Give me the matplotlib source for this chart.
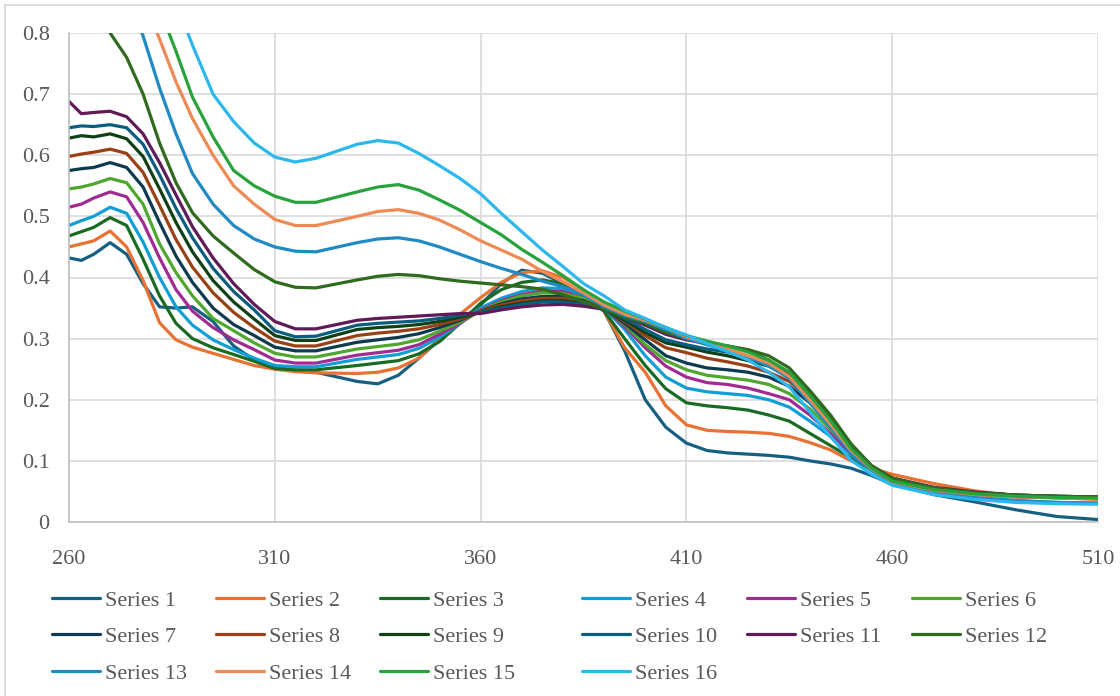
import matplotlib.pyplot as plt
from matplotlib.lines import Line2D

plt.rcParams['font.family'] = ['Liberation Serif', 'DejaVu Serif']

# wavelength grid (nm) and absorbance readings for each series
wavelength = [260, 263, 266, 270, 274, 278, 282, 286, 290, 295,
              300, 305, 310, 315, 320, 330, 335, 340, 345, 350, 355, 360,
              365, 370, 375, 380, 385, 390, 395, 400, 405, 410,
              415, 420, 425, 430, 435, 440, 445, 450, 455, 460,
              470, 480, 490, 500, 510]

s1 = [.432, .428, .438, .457, .438, .39, .352, .35, .352, .328,
      .288, .265, .254, .248, .245, .23, .226, .24, .268, .298, .33, .355,
      .39, .412, .407, .39, .37, .345, .28, .2, .155, .129,
      .117, .113, .111, .109, .106, .1, .095, .088, .076, .062,
      .045, .033, .02, .009, .004]
s2 = [.45, .455, .46, .476, .45, .395, .326, .298, .286, .276,
      .266, .256, .25, .246, .244, .243, .245, .252, .268, .3, .34, .367,
      .392, .408, .411, .4, .38, .345, .285, .245, .19, .159,
      .15, .148, .147, .145, .14, .13, .118, .1, .088, .078,
      .063, .051, .043, .04, .037]
s3 = [.468, .475, .482, .498, .485, .43, .37, .325, .3, .285,
      .274, .263, .251, .249, .249, .256, .26, .264, .275, .295, .325, .358,
      .38, .392, .396, .39, .372, .345, .3, .256, .218, .195,
      .19, .187, .183, .175, .165, .145, .125, .105, .085, .068,
      .054, .047, .043, .041, .04]
s4 = [.485, .493, .5, .515, .505, .458, .4, .352, .322, .298,
      .282, .268, .256, .254, .254, .266, .27, .274, .284, .302, .325, .35,
      .366, .377, .383, .382, .37, .35, .315, .272, .237, .219,
      .213, .21, .207, .2, .188, .165, .14, .11, .085, .064,
      .049, .04, .035, .032, .031]
s5 = [.515, .52, .53, .54, .532, .49, .432, .38, .345, .318,
      .298, .282, .265, .26, .26, .273, .277, .281, .29, .307, .325, .347,
      .362, .372, .378, .377, .367, .35, .32, .285, .255, .237,
      .228, .225, .219, .21, .2, .175, .145, .113, .087, .066,
      .052, .045, .041, .04, .039]
s6 = [.545, .548, .553, .562, .555, .52, .455, .408, .37, .333,
      .313, .293, .276, .27, .27, .283, .287, .291, .298, .312, .327, .346,
      .36, .37, .375, .374, .366, .35, .323, .29, .264, .249,
      .24, .236, .232, .225, .21, .185, .152, .117, .088, .067,
      .053, .046, .042, .04, .039]
s7 = [.575, .578, .58, .588, .58, .548, .49, .435, .392, .35,
      .323, .305, .286, .28, .28, .294, .298, .302, .308, .318, .33, .345,
      .357, .365, .369, .369, .362, .349, .325, .298, .272, .26,
      .252, .249, .245, .237, .222, .195, .16, .12, .09, .068,
      .053, .046, .042, .04, .039]
s8 = [.598, .602, .605, .61, .603, .572, .518, .462, .417, .375,
      .343, .318, .296, .288, .288, .305, .309, .312, .316, .323, .332, .344,
      .355, .362, .366, .366, .36, .349, .328, .305, .285, .277,
      .268, .262, .255, .245, .23, .2, .165, .122, .09, .069,
      .054, .047, .043, .041, .04]
s9 = [.628, .632, .63, .635, .627, .598, .545, .49, .442, .395,
      .36, .332, .305, .297, .297, .315, .318, .32, .323, .328, .335, .343,
      .352, .358, .362, .362, .357, .349, .33, .31, .293, .286,
      .278, .272, .264, .255, .24, .205, .168, .124, .09, .07,
      .055, .048, .044, .042, .041]
s10 = [.645, .648, .647, .65, .645, .618, .568, .513, .465, .415,
       .377, .347, .313, .303, .304, .322, .325, .327, .329, .333, .338, .343,
       .35, .356, .36, .36, .356, .349, .333, .315, .298, .29,
       .283, .278, .27, .262, .245, .21, .172, .126, .09, .07,
       .055, .048, .044, .042, .041]
s11 = [.688, .668, .67, .672, .663, .635, .588, .535, .483, .432,
       .39, .356, .328, .316, .316, .33, .333, .335, .337, .339, .341, .341,
       .347, .352, .355, .356, .353, .348, .336, .322, .307, .298,
       .292, .288, .28, .265, .24, .21, .172, .125, .092, .072,
       .057, .049, .044, .042, .041]
s12 = [1.0, .95, .88, .8, .76, .7, .62, .555, .506, .468,
       .44, .413, .393, .384, .383, .396, .402, .405, .403, .398, .394, .391,
       .388, .385, .381, .372, .36, .348, .335, .325, .31, .3,
       .293, .288, .282, .272, .252, .215, .175, .128, .092, .072,
       .056, .048, .044, .042, .041]
s13 = [1.1, 1.05, .99, .92, .86, .795, .71, .635, .57, .52,
       .485, .463, .45, .443, .442, .457, .463, .465, .46, .45, .438, .426,
       .415, .405, .394, .385, .372, .352, .338, .328, .315, .3,
       .29, .28, .27, .255, .235, .195, .155, .113, .085, .063,
       .048, .04, .035, .032, .031]
s14 = [1.2, 1.15, 1.1, 1.0, .93, .86, .79, .72, .66, .6,
       .55, .52, .495, .485, .485, .5, .508, .511, .505, .494, .478, .46,
       .445, .43, .41, .393, .375, .355, .34, .33, .318, .303,
       .293, .283, .272, .26, .238, .2, .16, .117, .087, .066,
       .052, .045, .041, .039, .038]
s15 = [1.3, 1.25, 1.18, 1.08, 1.0, .92, .84, .77, .695, .63,
       .575, .55, .533, .523, .523, .54, .548, .552, .543, .527, .51, .49,
       .47, .446, .425, .403, .38, .36, .345, .332, .318, .305,
       .296, .288, .278, .265, .245, .207, .166, .12, .088, .067,
       .053, .046, .042, .04, .039]
s16 = [1.4, 1.35, 1.3, 1.2, 1.1, 1.0, .92, .85, .78, .7,
       .655, .62, .597, .589, .595, .618, .624, .62, .603, .583, .562, .537,
       .505, .475, .445, .418, .39, .37, .347, .333, .318, .306,
       .292, .279, .265, .245, .221, .18, .14, .101, .078, .06,
       .045, .037, .032, .03, .029]

series = [s1, s2, s3, s4, s5, s6, s7, s8, s9, s10, s11, s12, s13, s14, s15, s16]
names = ['Series %d' % (i + 1) for i in range(16)]
colors = ['#156082', '#E97132', '#196B24', '#0F9ED5', '#A02B93', '#4EA72E',
          '#0D3A4F', '#9A4015', '#0F4016', '#095E80', '#601A58', '#2F6A1F',
          '#1F8AC3', '#EE8A54', '#28A33C', '#2CB8EC']

xticks = [260, 310, 360, 410, 460, 510]
yticks = [0, 0.1, 0.2, 0.3, 0.4, 0.5, 0.6, 0.7, 0.8]
ylabels = ['0', '0.1', '0.2', '0.3', '0.4', '0.5', '0.6', '0.7', '0.8']

grey = '#595959'

fig = plt.figure(figsize=(11.2, 6.96), dpi=100)
ax = fig.add_axes([69 / 1120, 1 - 522 / 696, 1029 / 1120, 489 / 696])

handles = []
for ys, name, c in zip(series, names, colors):
    h, = ax.plot(wavelength, ys, color=c, lw=2.3, label=name,
                 solid_joinstyle='round', solid_capstyle='round')
    handles.append(h)

ax.set_xlim(260, 510)
ax.set_ylim(0, 0.8)
ax.set_xticks(xticks)
ax.set_yticks(yticks)
ax.set_yticklabels(ylabels)
ax.grid(True, color='#D9D9D9', lw=1.2)
ax.set_axisbelow(True)
ax.tick_params(length=0, labelsize=16, labelcolor=grey)
ax.tick_params(axis='y', pad=14)
ax.tick_params(axis='x', pad=20)
for side in ['top', 'right']:
    ax.spines[side].set_visible(False)
for side in ['left', 'bottom']:
    ax.spines[side].set_color('#BFBFBF')
    ax.spines[side].set_linewidth(1.2)

# legend: six columns, filled row by row like the original
col_x = [52, 216, 380, 582, 747, 912]
for c in range(6):
    idx = [i for i in (c, c + 6, c + 12) if i < 16]
    leg = fig.legend([handles[i] for i in idx], [names[i] for i in idx],
                     loc='upper left', bbox_to_anchor=(col_x[c] / 1120, 1 - 590 / 696),
                     frameon=False, fontsize=16, handlelength=2.15,
                     handletextpad=0.25, borderpad=0, borderaxespad=0,
                     labelspacing=0.72)
    for t in leg.get_texts():
        t.set_color(grey)

# chart-area border
fig.add_artist(Line2D([5 / 1120, 1], [1 - 5 / 696, 1 - 5 / 696], color='#D9D9D9', lw=1.2))
fig.add_artist(Line2D([5 / 1120, 5 / 1120], [0, 1 - 5 / 696], color='#D9D9D9', lw=1.2))

fig.savefig('out.png', dpi=100)
